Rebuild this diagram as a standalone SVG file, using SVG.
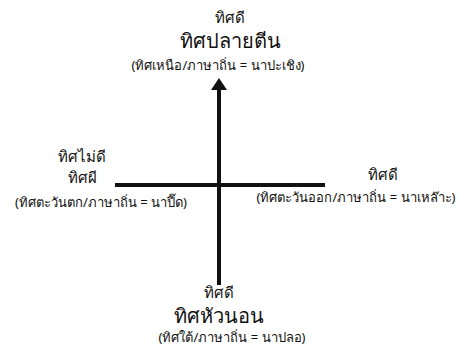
<svg xmlns="http://www.w3.org/2000/svg" width="467" height="348" viewBox="0 0 467 348">
<style>
text{font-family:"Noto Sans","Liberation Serif",serif;fill:#111;text-anchor:middle}
.m{font-size:15px}
.b{font-size:20px}
.s{font-size:13px}
.ax{stroke:#111;stroke-width:4;fill:none}
</style>
<defs>
<marker id="ah" markerWidth="3" markerHeight="4" refX="0" refY="2" orient="auto" markerUnits="strokeWidth">
<path d="M0,0 L3,2 L0,4 Z" fill="#111"/>
</marker>
</defs>
<rect width="467" height="348" fill="#fff"/>
<g id="connectors">
<line class="ax" x1="219" y1="285" x2="219" y2="90" marker-end="url(#ah)"/>
<line class="ax" x1="115" y1="185" x2="325" y2="185"/>
</g>
<g id="north">
<text class="m" x="230" y="23">ทิศดี</text>
<text class="b" x="230" y="48">ทิศปลายตีน</text>
<text class="s" x="218" y="70">(ทิศเหนือ/ภาษาถิ่น = นาปะเชิง)</text>
</g>
<g id="west">
<text class="m" x="82" y="162">ทิศไม่ดี</text>
<text class="m" x="82" y="183">ทิศผี</text>
<text class="s" x="101" y="207">(ทิศตะวันตก/ภาษาถิ่น = นาปี๊ด)</text>
</g>
<g id="east">
<text class="m" x="383" y="180">ทิศดี</text>
<text class="s" x="356" y="202">(ทิศตะวันออก/ภาษาถิ่น = นาเหล๊าะ)</text>
</g>
<g id="south">
<text class="m" x="219" y="298">ทิศดี</text>
<text class="b" x="219" y="323">ทิศหัวนอน</text>
<text class="s" x="232" y="342">(ทิศใต้/ภาษาถิ่น = นาปลอ)</text>
</g>
</svg>
